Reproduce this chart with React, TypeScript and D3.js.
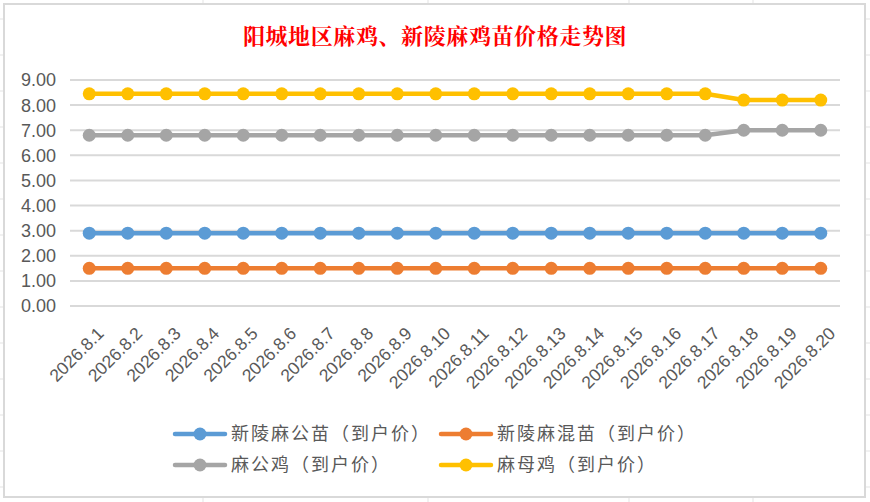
import React from 'react';
import * as d3 from 'd3';

const dates = [
  '2026.8.1', '2026.8.2', '2026.8.3', '2026.8.4', '2026.8.5',
  '2026.8.6', '2026.8.7', '2026.8.8', '2026.8.9', '2026.8.10',
  '2026.8.11', '2026.8.12', '2026.8.13', '2026.8.14', '2026.8.15',
  '2026.8.16', '2026.8.17', '2026.8.18', '2026.8.19', '2026.8.20',
];

const maleChickPrice = [2.9, 2.9, 2.9, 2.9, 2.9, 2.9, 2.9, 2.9, 2.9, 2.9, 2.9, 2.9, 2.9, 2.9, 2.9, 2.9, 2.9, 2.9, 2.9, 2.9];
const mixedChickPrice = [1.5, 1.5, 1.5, 1.5, 1.5, 1.5, 1.5, 1.5, 1.5, 1.5, 1.5, 1.5, 1.5, 1.5, 1.5, 1.5, 1.5, 1.5, 1.5, 1.5];
const roosterPrice = [6.8, 6.8, 6.8, 6.8, 6.8, 6.8, 6.8, 6.8, 6.8, 6.8, 6.8, 6.8, 6.8, 6.8, 6.8, 6.8, 6.8, 7.0, 7.0, 7.0];
const henPrice = [8.45, 8.45, 8.45, 8.45, 8.45, 8.45, 8.45, 8.45, 8.45, 8.45, 8.45, 8.45, 8.45, 8.45, 8.45, 8.45, 8.45, 8.2, 8.2, 8.2];

const yTicks = [0, 1, 2, 3, 4, 5, 6, 7, 8, 9];

const seriesNames = ['新陵麻公苗（到户价）', '新陵麻混苗（到户价）', '麻公鸡（到户价）', '麻母鸡（到户价）'];
const seriesColors = ['#5b9bd5', '#ed7d31', '#a5a5a5', '#ffc000'];
const seriesValues = [maleChickPrice, mixedChickPrice, roosterPrice, henPrice];

const title = '阳城地区麻鸡、新陵麻鸡苗价格走势图';

const W = 870;
const H = 502;
const plot = { left: 70, right: 840, top: 80, bottom: 306 };

// spreadsheet cell lines behind the chart
const sheetRows = [19, 55, 91, 127, 163, 199, 235, 271, 307, 343, 379, 415, 451, 487];
const sheetCols = [203, 428, 629, 753];

const axisFont = '"Liberation Sans", Arial, sans-serif';
const cjkFont = '"Noto Sans CJK SC", "Noto Sans", sans-serif';

const App: React.FC = () => {
  const x = d3.scalePoint<string>().domain(dates).range([plot.left, plot.right]).padding(0.5);
  const y = d3.scaleLinear().domain([0, 9]).range([plot.bottom, plot.top]);

  const line = d3
    .line<number>()
    .x((_, i) => x(dates[i]) as number)
    .y((d) => y(d));

  const legendCols = [175, 441];
  const legendRows = [434, 465];

  return (
    <svg width={W} height={H} style={{ position: 'absolute', left: 0, top: 0 }}>
      <rect x={0} y={0} width={W} height={H} fill="#fff" />
      {sheetRows.map((r) => (
        <line key={'r' + r} x1={0} x2={W} y1={r} y2={r} stroke="#e3e3e3" strokeWidth={1} />
      ))}
      {sheetCols.map((c) => (
        <line key={'c' + c} x1={c} x2={c} y1={0} y2={H} stroke="#e3e3e3" strokeWidth={1} />
      ))}

      <rect x={4} y={4} width={861} height={493} fill="#fff" stroke="#d9d9d9" strokeWidth={2} />

      <text
        x={435}
        y={44}
        textAnchor="middle"
        fill="#ff0000"
        fontFamily={'"Noto Serif CJK SC", "Noto Sans CJK SC", serif'}
        fontWeight="bold"
        fontSize={22}
        letterSpacing={0.6}
      >
        {title}
      </text>

      {yTicks.map((t) => (
        <g key={t}>
          <line x1={plot.left} x2={plot.right} y1={y(t)} y2={y(t)} stroke="#d9d9d9" strokeWidth={2} />
          <text
            x={56}
            y={y(t)}
            dy="0.36em"
            textAnchor="end"
            fill="#595959"
            fontFamily={axisFont}
            fontSize={18}
          >
            {t.toFixed(2)}
          </text>
        </g>
      ))}

      {dates.map((d) => (
        <text
          key={d}
          transform={`translate(${(x(d) as number) + 7}, ${plot.bottom + 20}) rotate(-45)`}
          textAnchor="end"
          dy="0.7em"
          fill="#595959"
          fontFamily={axisFont}
          fontSize={17.5}
        >
          {d}
        </text>
      ))}

      {seriesValues.map((vals, si) => (
        <g key={si}>
          <path d={line(vals) ?? ''} fill="none" stroke={seriesColors[si]} strokeWidth={4.5} strokeLinejoin="round" />
          {vals.map((v, i) => (
            <circle key={i} cx={x(dates[i])} cy={y(v)} r={6.5} fill={seriesColors[si]} />
          ))}
        </g>
      ))}

      {seriesNames.map((name, i) => {
        const lx = legendCols[i % 2];
        const ly = legendRows[Math.floor(i / 2)];
        return (
          <g key={name}>
            <line x1={lx} x2={lx + 50} y1={ly} y2={ly} stroke={seriesColors[i]} strokeWidth={4.5} strokeLinecap="round" />
            <circle cx={lx + 25} cy={ly} r={6.5} fill={seriesColors[i]} />
            <text
              x={lx + 56}
              y={ly}
              dy="0.36em"
              fill="#595959"
              fontFamily={cjkFont}
              fontSize={18}
              letterSpacing={2}
            >
              {name}
            </text>
          </g>
        );
      })}
    </svg>
  );
};

export default App;
